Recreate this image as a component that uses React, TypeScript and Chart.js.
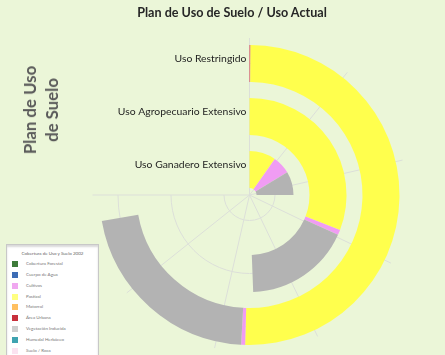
import React, { useEffect, useRef } from 'react';
import { Chart, registerables } from 'chart.js';

Chart.register(...registerables);

const TITLE = 'Plan de Uso de Suelo / Uso Actual';
const SIDE_TITLE = ['Plan de Uso', 'de Suelo'];

// Rings (plan zones), outer to inner
const RING_LABELS = ['Uso Restringido', 'Uso Agropecuario Extensivo', 'Uso Ganadero Extensivo'];

// Land-cover classes drawn in each ring, in drawing order
const COVER_CLASSES = ['Área Urbana', 'Pastizal', 'Cultivos', 'Vegetación Inducida'];
const COVER_COLORS = ['#D9424A', '#FFFF4D', '#F09CF3', '#B3B3B3'];

const USO_RESTRINGIDO = [0.1, 47.0, 0.4, 19.9];
const USO_AGROPECUARIO = [0, 28.8, 0.8, 16.5];
const USO_GANADERO = [0, 9.1, 6.2, 8.0];

// value axis (swept clockwise from 12 o'clock over 270 degrees)
const AXIS_TICKS = [0, 10, 20, 30, 40, 50, 60, 70];

const LEGEND_TITLE = 'Cobertura de Uso y Suelo 2002';
const LEGEND_LABELS = [
  'Cobertura Forestal',
  'Cuerpo de Agua',
  'Cultivos',
  'Pastizal',
  'Matorral',
  'Área Urbana',
  'Vegetación Inducida',
  'Humedal Herbáceo',
  'Suelo / Roca',
];
const LEGEND_COLORS = [
  '#3E7A3A',
  '#3D6DB5',
  '#F0A8F0',
  '#FFFF80',
  '#FFC060',
  '#C8303C',
  '#CFCFCF',
  '#3FA3B0',
  '#FBE3F0',
];

const BG = '#EBF6D8';
const GRID = '#DCDFD9';
const SWEEP_DEG = 270;
const RING_WEIGHT = 37;
const GAP_WEIGHT = 16;

export default function App() {
  const ref = useRef<HTMLCanvasElement>(null);

  useEffect(() => {
    if (!ref.current) return;
    const axisMax = AXIS_TICKS[AXIS_TICKS.length - 1];
    const rings = [USO_RESTRINGIDO, USO_AGROPECUARIO, USO_GANADERO];
    const datasets: any[] = [];
    const ringIndex: number[] = [];
    rings.forEach((vals, i) => {
      if (i > 0) {
        datasets.push({
          label: '',
          data: [1],
          backgroundColor: 'rgba(0,0,0,0)',
          borderWidth: 0,
          weight: GAP_WEIGHT,
          circumference: 360,
        });
      }
      const sum = vals.reduce((a, b) => a + b, 0);
      ringIndex.push(datasets.length);
      datasets.push({
        label: RING_LABELS[i],
        data: vals,
        backgroundColor: COVER_COLORS,
        borderWidth: 0,
        weight: RING_WEIGHT,
        circumference: (sum / axisMax) * SWEEP_DEG,
      });
    });

    const gridPlugin = {
      id: 'radialGrid',
      beforeDatasetsDraw(chart: any) {
        const ctx = chart.ctx;
        const m0 = chart.getDatasetMeta(0);
        const el = m0.data[1];
        const cx = el.x;
        const cy = el.y;
        const R = m0.controller.outerRadius + 7;
        ctx.save();
        ctx.strokeStyle = GRID;
        ctx.lineWidth = 1;
        AXIS_TICKS.forEach((t) => {
          const a = -Math.PI / 2 + (t / axisMax) * (SWEEP_DEG * Math.PI / 180);
          ctx.beginPath();
          ctx.moveTo(cx, cy);
          ctx.lineTo(cx + R * Math.cos(a), cy + R * Math.sin(a));
          ctx.stroke();
        });
        ringIndex.forEach((di) => {
          const c = chart.getDatasetMeta(di).controller;
          const mid = (c.innerRadius + c.outerRadius) / 2;
          ctx.beginPath();
          ctx.arc(cx, cy, mid, -Math.PI / 2, -Math.PI / 2 + SWEEP_DEG * Math.PI / 180);
          ctx.stroke();
        });
        ctx.restore();
      },
      afterDatasetsDraw(chart: any) {
        const ctx = chart.ctx;
        const m0 = chart.getDatasetMeta(0);
        const el = m0.data[1];
        const cx = el.x;
        const cy = el.y;
        ctx.save();
        ctx.fillStyle = '#1E1E1E';
        ctx.font = '10.4px Lato, "Liberation Sans", sans-serif';
        ctx.textAlign = 'right';
        ctx.textBaseline = 'middle';
        ringIndex.forEach((di, i) => {
          const c = chart.getDatasetMeta(di).controller;
          const mid = (c.innerRadius + c.outerRadius) / 2;
          ctx.fillText(RING_LABELS[i], cx - 3, cy - mid - 5);
        });
        ctx.restore();
      },
    };

    const chart = new Chart(ref.current, {
      type: 'doughnut',
      data: { labels: COVER_CLASSES, datasets },
      options: {
        responsive: false,
        animation: false,
        devicePixelRatio: 1,
        radius: 150,
        cutout: (7 / 150) * 100 + '%',
        layout: { padding: { left: 54, right: 0, top: 35, bottom: 0 } },
        plugins: {
          legend: { display: false },
          tooltip: { enabled: false },
          title: { display: false },
        },
        events: [],
      } as any,
      plugins: [gridPlugin],
    });
    return () => chart.destroy();
  }, []);

  return (
    <div
      style={{
        position: 'fixed',
        left: 0,
        top: 0,
        width: 445,
        height: 355,
        background: BG,
        overflow: 'hidden',
        fontFamily: 'Lato, "Liberation Sans", sans-serif',
      }}
    >
      <canvas ref={ref} width={445} height={355} style={{ position: 'absolute', left: 0, top: 0 }} />
      <div
        style={{
          position: 'absolute',
          left: 0,
          width: 464,
          top: 5,
          textAlign: 'center',
          fontWeight: 700,
          fontSize: 12.6,
          color: '#262626',
          lineHeight: '16px',
        }}
      >
        {TITLE}
      </div>
      <div
        style={{
          position: 'absolute',
          left: 41,
          top: 110,
          transform: 'translate(-50%, -50%) rotate(-90deg)',
          whiteSpace: 'nowrap',
          textAlign: 'center',
          fontWeight: 700,
          fontSize: 16.8,
          lineHeight: '22px',
          color: '#5A5A5A',
        }}
      >
        {SIDE_TITLE.map((s) => (
          <div key={s}>{s}</div>
        ))}
      </div>
      <div
        style={{
          position: 'absolute',
          left: 6,
          top: 244,
          width: 91,
          height: 130,
          background: '#FFFFFF',
          border: '1px solid #C8C8C8',
          boxShadow: 'inset 0 2px 2px rgba(0,0,0,0.15)',
        }}
      >
        <div
          style={{
            position: 'absolute',
            left: 0,
            width: 91,
            top: 6,
            textAlign: 'center',
            fontSize: 4.5,
            color: '#666',
            lineHeight: '6px',
            whiteSpace: 'nowrap',
          }}
        >
          {LEGEND_TITLE}
        </div>
        {LEGEND_LABELS.map((lab, i) => (
          <div key={lab} style={{ position: 'absolute', left: 5, top: 16 + i * 10.85, height: 6, display: 'flex', alignItems: 'center' }}>
            <div style={{ width: 6, height: 6, background: LEGEND_COLORS[i] }} />
            <div style={{ marginLeft: 8, fontSize: 4.5, color: '#777', whiteSpace: 'nowrap', lineHeight: '6px' }}>{lab}</div>
          </div>
        ))}
      </div>
    </div>
  );
}
